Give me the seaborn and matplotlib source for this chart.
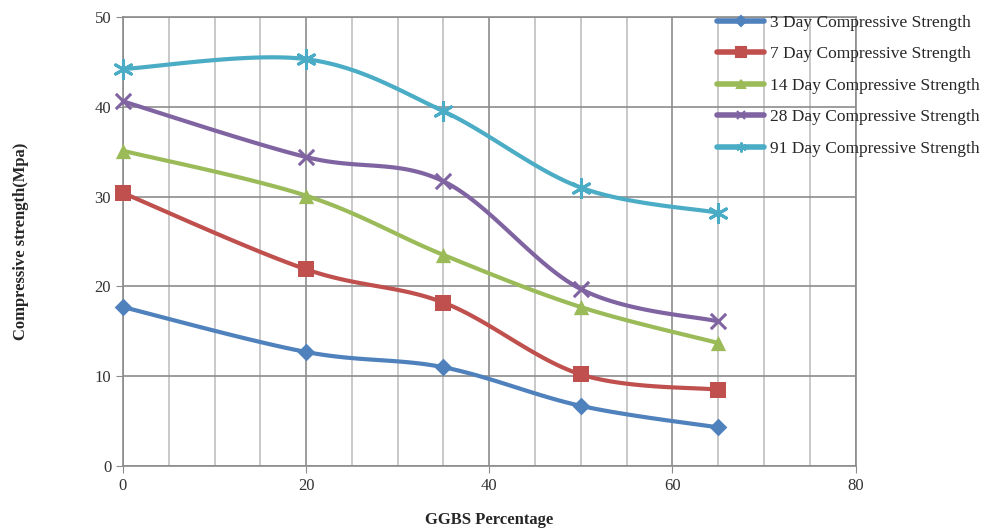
import numpy as np
import pandas as pd
import matplotlib
matplotlib.use("Agg")
import matplotlib.pyplot as plt
import seaborn as sns
from matplotlib.lines import Line2D

ggbs = [0, 20, 35, 50, 65]
day3 = [17.7, 12.7, 11.0, 6.7, 4.3]
day7 = [30.4, 21.9, 18.2, 10.2, 8.5]
day14 = [35.1, 30.1, 23.5, 17.7, 13.7]
day28 = [40.6, 34.4, 31.7, 19.7, 16.1]
day91 = [44.2, 45.3, 39.5, 31.0, 28.2]

names = ["3 Day Compressive Strength", "7 Day Compressive Strength",
         "14 Day Compressive Strength", "28 Day Compressive Strength",
         "91 Day Compressive Strength"]
colors = ["#4F81BD", "#C0504D", "#9BBB59", "#8064A2", "#4BACC6"]
markers = ["D", "s", "^", "x", (6, 2, 0)]
msizes = [9, 12, 11, 11, 13]

sns.set_style("white")
plt.rcParams["font.family"] = ["Liberation Serif", "DejaVu Serif"]


def smooth(x, y, n=30):
    # excel style smoothed line (catmull-rom between points)
    x = np.asarray(x, float)
    y = np.asarray(y, float)
    px = np.concatenate([[x[0]], x, [x[-1]]])
    py = np.concatenate([[y[0]], y, [y[-1]]])
    xs, ys = [], []
    for i in range(1, len(px) - 2):
        t = np.linspace(0, 1, n)
        for p, out in ((px, xs), (py, ys)):
            p0, p1, p2, p3 = p[i - 1], p[i], p[i + 1], p[i + 2]
            b1 = p1 + (p2 - p0) / 6
            b2 = p2 - (p3 - p1) / 6
            out.extend((1 - t) ** 3 * p1 + 3 * (1 - t) ** 2 * t * b1
                       + 3 * (1 - t) * t ** 2 * b2 + t ** 3 * p2)
    return np.array(xs), np.array(ys)


df = pd.DataFrame({"GGBS": ggbs, names[0]: day3, names[1]: day7,
                   names[2]: day14, names[3]: day28, names[4]: day91})

fig = plt.figure(figsize=(9.94, 5.29), dpi=100)
ax = fig.add_axes([0.1237, 0.119, 0.737, 0.849])

handles = []
for name, c, m, ms in zip(names, colors, markers, msizes):
    sx, sy = smooth(df["GGBS"], df[name])
    ax.plot(sx, sy, color=c, lw=3, zorder=3, solid_capstyle="round", clip_on=False)
    sns.scatterplot(x=df["GGBS"], y=df[name], ax=ax, color=c, marker=m,
                    s=ms ** 2, linewidth=2.2 if m in ("x", (6, 2, 0)) else 0,
                    edgecolor=c, zorder=4, legend=False, clip_on=False)
    handles.append(Line2D([], [], color=c, lw=4, marker=m, markersize=ms * 0.55,
                          markeredgewidth=1.5, label=name))

ax.set_xlim(0, 80)
ax.set_ylim(0, 50)
ax.set_xticks(range(0, 81, 20))
ax.set_xticks(range(0, 81, 5), minor=True)
ax.set_yticks(range(0, 51, 10))
ax.grid(True, which="major", color="#8C8C8C", lw=1.2)
ax.grid(True, which="minor", axis="x", color="#C0C0C0", lw=1.2)
ax.set_axisbelow(True)
for s in ax.spines.values():
    s.set_color("#8C8C8C")
    s.set_linewidth(1.2)
ax.tick_params(which="major", direction="out", length=5, color="#8C8C8C",
               labelsize=12, labelcolor="#333333", bottom=True, left=True)
ax.tick_params(which="minor", length=0)

ax.set_xlabel("GGBS Percentage", fontsize=12, fontweight="bold", labelpad=13)
ax.set_ylabel("Compressive strength(Mpa)", fontsize=12, fontweight="bold", labelpad=47)

leg = fig.legend(handles=handles, loc="upper left", bbox_to_anchor=(0.714, 0.985),
                 frameon=False, fontsize=12.5, handlelength=2.75, handletextpad=0.3,
                 labelspacing=0.88, borderaxespad=0)

fig.savefig("out.png", dpi=100)
